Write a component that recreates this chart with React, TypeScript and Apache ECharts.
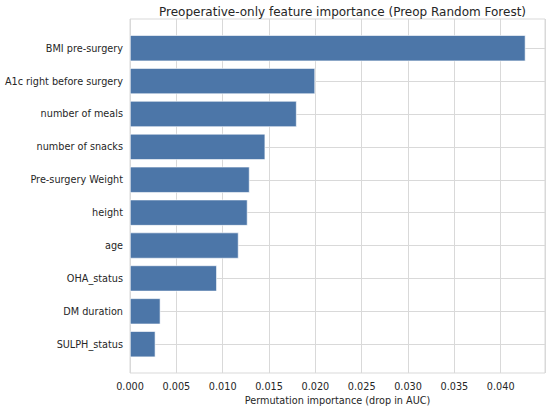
import React, { useEffect, useRef } from "react";
import * as echarts from "echarts";

const categories = [
  "BMI pre-surgery",
  "A1c right before surgery",
  "number of meals",
  "number of snacks",
  "Pre-surgery Weight",
  "height",
  "age",
  "OHA_status",
  "DM duration",
  "SULPH_status",
];
const importance = [0.04267, 0.01997, 0.01798, 0.01459, 0.0129, 0.01268, 0.01171, 0.00937, 0.00328, 0.00274];
const xMax = 0.04478;
const xInterval = 0.005;

const FONT = "DejaVu Sans";
const GRID_COLOR = "#d9d9d9";
const TEXT_COLOR = "#262626";
const FS = 9.7;

export default function App() {
  const ref = useRef<HTMLDivElement>(null);
  useEffect(() => {
    document.body.style.margin = "0";
    const chart = echarts.init(ref.current!, null, { renderer: "svg" });
    chart.setOption({
      animation: false,
      backgroundColor: "#ffffff",
      textStyle: { fontFamily: FONT },
      title: {
        text: "Preoperative-only feature importance (Preop Random Forest)",
        left: 337.5,
        textAlign: "center",
        top: 1,
        textStyle: { fontFamily: FONT, fontSize: 12, fontWeight: "normal", color: TEXT_COLOR },
      },
      grid: [
        { left: 130, right: 5, top: 19, height: 354, show: true, borderColor: GRID_COLOR, borderWidth: 1, backgroundColor: "transparent", outerBoundsMode: "none", containLabel: false },
        { left: 130, right: 5, top: 48.2, height: 296, outerBoundsMode: "none", containLabel: false },
      ],
      xAxis: [
        {
          type: "value",
          gridIndex: 0,
          min: 0,
          max: xMax,
          interval: xInterval,
          name: "Permutation importance (drop in AUC)",
          nameLocation: "middle",
          nameGap: 19,
          nameTextStyle: { fontFamily: FONT, fontSize: FS, color: TEXT_COLOR, verticalAlign: "top" },
          axisLine: { show: false },
          axisTick: { show: false },
          axisLabel: {
            fontFamily: FONT,
            fontSize: FS,
            color: TEXT_COLOR,
            margin: 8,
            showMaxLabel: false,
            formatter: (v: number) => v.toFixed(3),
          },
          splitLine: { show: true, lineStyle: { color: GRID_COLOR, width: 1 } },
        },
        { type: "value", gridIndex: 1, min: 0, max: xMax, show: false },
      ],
      yAxis: [
        { type: "value", gridIndex: 0, min: 0, max: 1, show: false },
        {
          type: "category",
          gridIndex: 1,
          data: categories,
          inverse: true,
          boundaryGap: false,
          axisLine: { show: false },
          axisTick: { show: false },
          axisLabel: { fontFamily: FONT, fontSize: FS, color: TEXT_COLOR, margin: 7 },
          splitLine: { show: true, lineStyle: { color: GRID_COLOR, width: 1 } },
        },
      ],
      series: [
        {
          type: "bar",
          xAxisIndex: 1,
          yAxisIndex: 1,
          data: importance,
          barWidth: 26,
          clip: false,
          itemStyle: { color: "#4c76a8", borderColor: "#ffffff", borderWidth: 0.6 },
        },
      ],
    });
    return () => chart.dispose();
  }, []);
  return <div ref={ref} style={{ width: 550, height: 410 }} />;
}
